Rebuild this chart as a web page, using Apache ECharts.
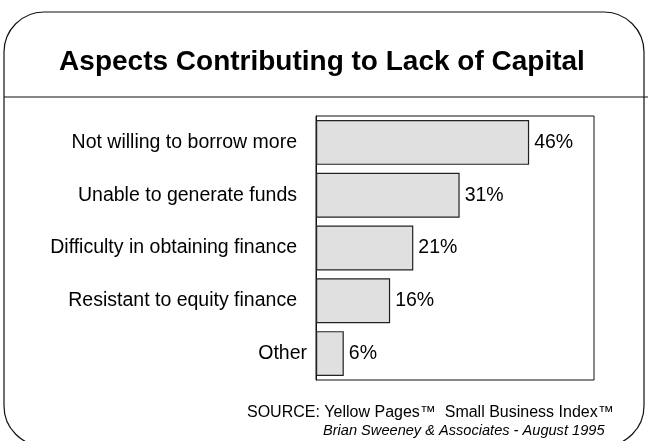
<!DOCTYPE html>
<html>
<head>
<meta charset="utf-8">
<script src="https://cdn.jsdelivr.net/npm/echarts@6/dist/echarts.min.js"></script>
<style>
  html, body { margin: 0; padding: 0; background: #fff; }
  #chart { width: 652px; height: 441px; }
</style>
</head>
<body>
<div id="chart"></div>
<script>
// Survey answers, top to bottom
const categories = [
  'Not willing to borrow more',
  'Unable to generate funds',
  'Difficulty in obtaining finance',
  'Resistant to equity finance',
  'Other'
];
const shares = [46, 31, 21, 16, 6];
const axisMax = 60;

const titleText = 'Aspects Contributing to Lack of Capital';
const sourceLine = 'SOURCE: Yellow Pages\u2122  Small Business Index\u2122';
const creditLine = 'Brian Sweeney & Associates - August 1995';

const FONT = 'Liberation Sans, Arial, Helvetica, sans-serif';

const chart = echarts.init(document.getElementById('chart'), null, { renderer: 'canvas' });

chart.setOption({
  backgroundColor: '#fff',
  animation: false,
  textStyle: { fontFamily: FONT },
  grid: {
    left: 316, right: 58, top: 116, bottom: 61,
    show: true, borderColor: '#111', borderWidth: 1, backgroundColor: 'transparent'
  },
  xAxis: {
    type: 'value', min: 0, max: axisMax,
    axisLine: { show: false }, axisTick: { show: false },
    axisLabel: { show: false }, splitLine: { show: false }
  },
  yAxis: {
    type: 'category', data: categories, inverse: true,
    axisLine: { show: true, lineStyle: { color: '#111', width: 1 } },
    axisTick: { show: false },
    axisLabel: {
      margin: 9,
      color: '#000',
      fontSize: 19.5,
      fontFamily: FONT,
      formatter: function (v) {
        return v === 'Other' ? v : '{pad|' + v + '}';
      },
      rich: { pad: { fontSize: 19.5, fontFamily: FONT, color: '#000', padding: [0, 10, 0, 0] } }
    }
  },
  series: [{
    type: 'bar',
    data: shares,
    barCategoryGap: '15%',
    itemStyle: { color: '#e0e0e0', borderColor: '#222', borderWidth: 1.2 },
    label: {
      show: true, position: 'right', distance: 5,
      formatter: '{c}%', color: '#000', fontSize: 19.5, fontFamily: FONT
    }
  }],
  graphic: [
    {
      type: 'rect', silent: true,
      shape: { x: 4, y: 12, width: 640, height: 434, r: 40 },
      style: { fill: 'none', stroke: '#111', lineWidth: 1.2 }
    },
    {
      type: 'line', silent: true,
      shape: { x1: 4, y1: 97, x2: 648, y2: 97 },
      style: { stroke: '#111', lineWidth: 1.2 }
    },
    {
      type: 'text', silent: true,
      style: {
        x: 322, y: 62, text: titleText, textAlign: 'center', textVerticalAlign: 'middle',
        font: 'bold 28px ' + FONT, fill: '#000'
      }
    },
    {
      type: 'text', silent: true,
      style: {
        x: 247, y: 413, text: sourceLine, textAlign: 'left', textVerticalAlign: 'middle',
        font: '16px ' + FONT, fill: '#000'
      }
    },
    {
      type: 'text', silent: true,
      style: {
        x: 323, y: 431, text: creditLine, textAlign: 'left', textVerticalAlign: 'middle',
        font: 'italic 14.6px ' + FONT, fill: '#000'
      }
    }
  ]
});
</script>
</body>
</html>
